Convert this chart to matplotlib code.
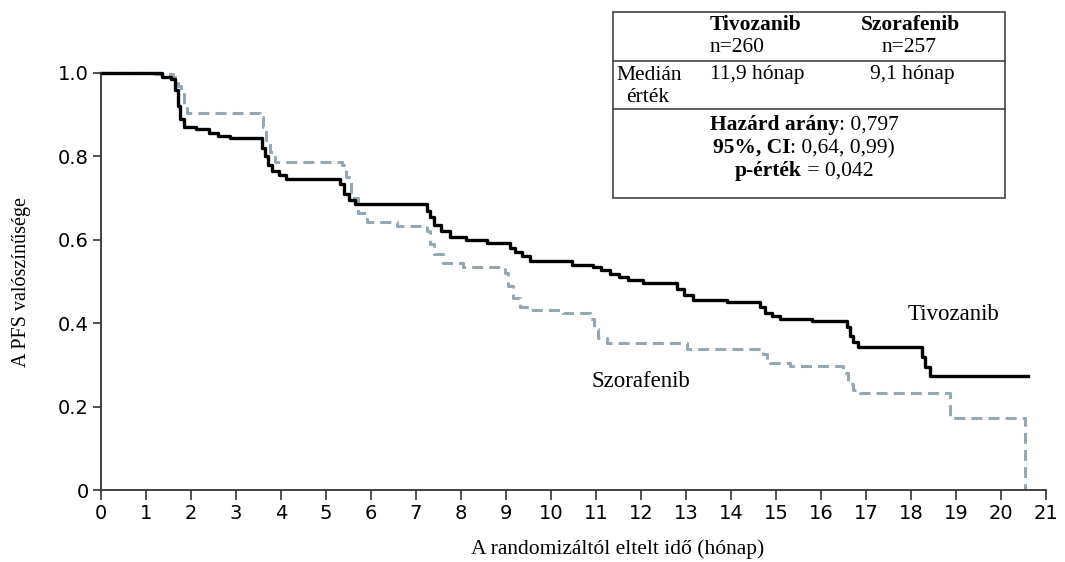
import matplotlib
matplotlib.use("Agg")
import matplotlib.pyplot as plt
from matplotlib.patches import Rectangle
from matplotlib.lines import Line2D

# Tivozanib (fekete, folytonos)
tivo_t = [0, 1.36, 1.55, 1.65, 1.7, 1.75, 1.85, 2.1, 2.4, 2.6, 2.87, 3.58, 3.65, 3.72, 3.8,
          3.95, 4.1, 5.31, 5.4, 5.5, 5.64, 7.24, 7.3, 7.4, 7.55, 7.76, 8.1, 8.58, 9.09, 9.2,
          9.35, 9.53, 10.47, 10.93, 11.1, 11.3, 11.5, 11.7, 12.04, 12.8, 12.95, 13.16, 13.9,
          14.64, 14.75, 14.9, 15.09, 15.8, 16.57, 16.65, 16.72, 16.83, 18.25, 18.32, 18.42, 20.6]
tivo_s = [1.0, 0.99, 0.985, 0.96, 0.92, 0.89, 0.87, 0.865, 0.855, 0.85, 0.844, 0.82, 0.80, 0.78,
          0.765, 0.755, 0.745, 0.735, 0.71, 0.695, 0.687, 0.67, 0.655, 0.635, 0.62, 0.607, 0.60,
          0.592, 0.58, 0.57, 0.56, 0.55, 0.54, 0.535, 0.527, 0.518, 0.51, 0.503, 0.497, 0.483,
          0.468, 0.456, 0.452, 0.44, 0.425, 0.418, 0.41, 0.405, 0.39, 0.37, 0.355, 0.343, 0.32,
          0.295, 0.273, 0.273]

# Szorafenib (szurke, szaggatott)
sora_t = [0, 1.2, 1.6, 1.7, 1.78, 1.85, 1.92, 3.53, 3.6, 3.67, 3.75, 3.87, 5.36, 5.45, 5.55,
          5.7, 5.9, 6.57, 7.24, 7.3, 7.4, 7.6, 8.04, 8.98, 9.05, 9.15, 9.3, 9.53, 10.27, 10.87,
          10.95, 11.05, 11.24, 13.02, 14.7, 14.8, 14.87, 15.3, 16.49, 16.6, 16.7, 16.87, 18.87,
          20.53]
sora_s = [1.0, 0.997, 0.99, 0.97, 0.95, 0.92, 0.904, 0.895, 0.87, 0.84, 0.81, 0.787, 0.78,
          0.75, 0.70, 0.665, 0.643, 0.633, 0.62, 0.59, 0.565, 0.544, 0.535, 0.52, 0.49, 0.46,
          0.44, 0.432, 0.425, 0.41, 0.385, 0.365, 0.352, 0.338, 0.325, 0.31, 0.304, 0.298, 0.28,
          0.255, 0.24, 0.232, 0.172, 0.0]

x_ticks = list(range(0, 22))
y_ticks = [0, 0.2, 0.4, 0.6, 0.8, 1.0]
y_ticklabels = ["0", "0.2", "0.4", "0.6", "0.8", "1.0"]

W, H = 1065, 562
serif = ["Liberation Serif", "DejaVu Serif"]
gray = "#93a8b4"

fig = plt.figure(figsize=(W / 100, H / 100), dpi=100)
ax = fig.add_axes([101 / W, 1 - 490 / H, (1046 - 101) / W, (490 - 73) / H])

ax.step(sora_t, sora_s, where="post", color=gray, lw=2.2, dashes=(3.6, 2), clip_on=False)
ax.step(tivo_t, tivo_s, where="post", color="black", lw=2.4, clip_on=False)

ax.set_xlim(0, 21)
ax.set_ylim(0, 1.0)
ax.set_xticks(x_ticks)
ax.set_yticks(y_ticks)
ax.set_yticklabels(y_ticklabels)
for lab in ax.get_xticklabels() + ax.get_yticklabels():
    lab.set_family("DejaVu Sans")
    lab.set_fontsize(14)
ax.spines["top"].set_visible(False)
ax.spines["right"].set_visible(False)
for s in ["left", "bottom"]:
    ax.spines[s].set_color("#333333")
    ax.spines[s].set_linewidth(1.3)
ax.tick_params(axis="x", direction="out", length=7, width=1.2, color="#333333", pad=3)
ax.tick_params(axis="y", direction="out", length=6, width=1.2, color="#333333", pad=3)

ax.text(18.95, 0.422, "Tivozanib", family=serif, fontsize=16.5, ha="center", va="center")
ax.text(12.0, 0.261, "Szorafenib", family=serif, fontsize=16.5, ha="center", va="center")

fig.text(618 / W, 1 - 549 / H, "A randomizáltól eltelt idő (hónap)", family=serif,
         fontsize=15.5, ha="center", va="center")
fig.text(22 / W, 1 - 282 / H, "A PFS valószínűsége", family=serif, fontsize=14.5,
         rotation=90, ha="center", va="center")


def fx(x):
    return x / W


def fy(y):
    return 1 - y / H


# tablazat
box = Rectangle((fx(613), fy(198)), fx(1005) - fx(613), fy(12) - fy(198),
                transform=fig.transFigure, fill=False, edgecolor="#444444", lw=1.2)
fig.add_artist(box)
for yy in [61, 109]:
    fig.add_artist(Line2D([fx(613), fx(1005)], [fy(yy), fy(yy)], transform=fig.transFigure,
                          color="#444444", lw=1.2))

fs = 15.5
fig.text(fx(710), fy(25), "Tivozanib", family=serif, weight="bold", fontsize=fs, va="center")
fig.text(fx(710), fy(48), "n=260", family=serif, fontsize=fs, va="center")
fig.text(fx(910), fy(25), "Szorafenib", family=serif, weight="bold", fontsize=fs,
         ha="center", va="center")
fig.text(fx(909), fy(48), "n=257", family=serif, fontsize=fs, ha="center", va="center")
fig.text(fx(649), fy(75), "Medián", family=serif, fontsize=fs, ha="center", va="center")
fig.text(fx(648), fy(98), "érték", family=serif, fontsize=fs, ha="center", va="center")
fig.text(fx(710), fy(75), "11,9 hónap", family=serif, fontsize=fs, va="center")
fig.text(fx(912), fy(75), "9,1 hónap", family=serif, fontsize=fs, ha="center", va="center")

renderer = fig.canvas.get_renderer()


def mixed(cx, cy, bold, normal):
    t1 = fig.text(0, fy(cy), bold, family=serif, weight="bold", fontsize=fs, va="baseline")
    t2 = fig.text(0, fy(cy), normal, family=serif, fontsize=fs, va="baseline")
    w1 = t1.get_window_extent(renderer).width / W
    w2 = t2.get_window_extent(renderer).width / W
    x0 = fx(cx) - (w1 + w2) / 2
    t1.set_x(x0)
    t2.set_x(x0 + w1)


mixed(804, 130, "Hazárd arány", ": 0,797")
mixed(804, 153, "95%, CI", ": 0,64, 0,99)")
mixed(804, 176, "p-érték", " = 0,042")

fig.savefig("out.png", dpi=100)
